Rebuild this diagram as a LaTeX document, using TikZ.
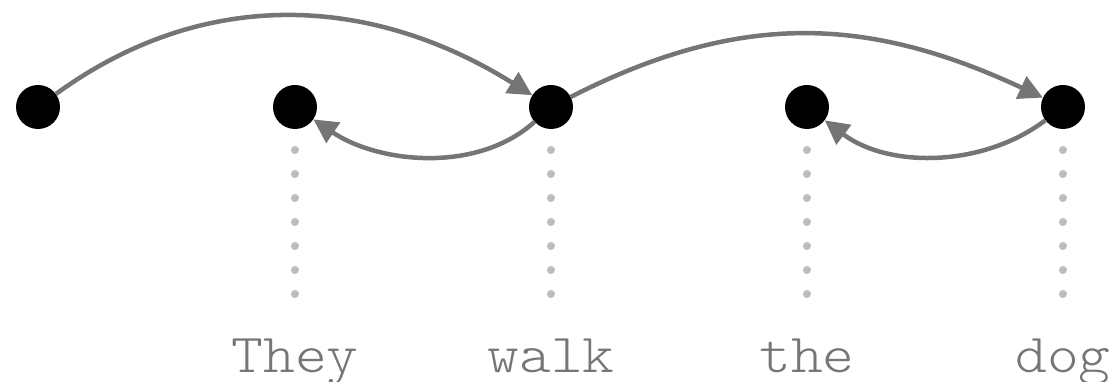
\documentclass[tikz,border=0pt]{standalone}
\usepackage{fontspec}
\newfontfamily\wordfont{Latin Modern Mono Light}
\usetikzlibrary{arrows.meta}
\definecolor{arcgray}{HTML}{757575}
\definecolor{dotgray}{HTML}{BDBDBD}
\definecolor{wordgray}{HTML}{767676}
\tikzset{
  tok/.style={circle, fill=black, inner sep=0pt, minimum size=44pt},
  arc/.style={draw=arcgray, line width=4.5pt, -{Triangle[length=24pt,width=24pt]}},
  word/.style={anchor=base, inner sep=0pt, text=wordgray, xscale=1.1, transform shape,
    font=\wordfont\fontsize{55}{60}\selectfont},
  dotmark/.style={fill=dotgray}
}
\begin{document}
\begin{tikzpicture}[x=1pt,y=1pt]
\useasboundingbox (0,0) rectangle (1112,382);
\node[tok] (n1) at (38,275) {};
\node[tok] (n2) at (295,275) {};
\node[tok] (n3) at (551,275) {};
\node[tok] (n4) at (807,275) {};
\node[tok] (n5) at (1063,275) {};
\node[word] (t2) at (295,9) {They};
\node[word] (t3) at (551,9) {walk};
\node[word] (t4) at (807,9) {the};
\node[word] (t5) at (1063,9) {dog};
\foreach \x in {295,551,807,1063}{
  \foreach \k in {0,...,6}{
    \fill[dotmark] (\x,232-24*\k) circle (4pt);
  }
}
\draw[arc] (n1) to[out=36,in=148] (n3);
\draw[arc] (n3) to[out=27,in=155,looseness=1.04] (n5);
\draw[arc] (n3) to[out=222,in=326,looseness=0.9] (n2);
\draw[arc] (n5) to[out=217,in=323,looseness=0.92] (n4);
\end{tikzpicture}
\end{document}
